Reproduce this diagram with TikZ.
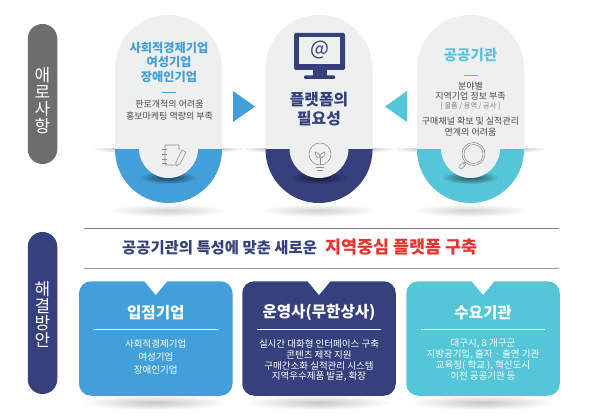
\documentclass[tikz,border=0pt]{standalone}
\usepackage{fontspec}
\setmainfont{Noto Sans CJK KR}
\definecolor{cblue}{HTML}{429FD9}
\definecolor{cnavy}{HTML}{35407C}
\definecolor{cteal}{HTML}{55C5D8}
\definecolor{cpale}{HTML}{EEEFEF}
\definecolor{cside}{HTML}{6D6D6D}
\definecolor{ctext}{HTML}{4A4A4A}
\definecolor{cred}{HTML}{E8332E}
\definecolor{cicon}{HTML}{8A8A8A}
\newcommand{\softell}[5][.035]{\foreach \k in {1,...,9}{\fill[black,opacity=#1] (#2,#3) ellipse [x radius={#4*\k/9}, y radius={#5*\k/9}];}}
\newcommand{\pxfont}[1]{\fontsize{#1}{#1}\selectfont}
\newcommand{\upcard}[3]{%
  \begin{scope}
    \clip (#1-80,149) rectangle (#1+80,160);
    \softell[.06]{#1}{149}{74}{5}
  \end{scope}
  \softell[.02]{#1}{211}{56}{6}
  \begin{scope}
    \clip (#1-60,148.5) rectangle (#1+60,210);
    \node[pill,fill=#2] (#3) at (#1,109) {};
  \end{scope}
  \begin{scope}
    \clip (#1-60,0) rectangle (#1+60,149);
    \node[pill,fill=cpale] at (#1,109) {};
  \end{scope}
  \begin{scope}
    \clip (#1-54,149) rectangle (#1+54,190);
    \softell[.07]{#1}{178}{27}{6}
  \end{scope}
  \fill[cpale] (#1,148.5) circle (29.5);
}
\newcommand{\lowcard}[3]{%
  \softell[.022]{#1}{403}{70}{7}
  \node[lowbox,fill=#2] (#3) at (#1,338.5) {};
  \fill[white] (#1-12,280.5) -- (#1+12,280.5) -- (#1,295) -- cycle;
  \draw[white,line width=1.1] (#1-62,329.3) -- (#1+62,329.3);
}
\tikzset{
  pill/.style={rectangle,minimum width=107,minimum height=188,rounded corners=53.4,inner sep=0,outer sep=0},
  lowbox/.style={rectangle,minimum width=153.5,minimum height=114.5,rounded corners=12,inner sep=0,outer sep=0},
  sidepill/.style={rectangle,minimum width=29.5,rounded corners=14.7,inner sep=0,outer sep=0},
  sidetext/.style={text=white,align=center,font=\pxfont{17},inner sep=0},
  ttl/.style={font=\bfseries\pxfont{12.2},inner sep=0},
  body/.style={font=\pxfont{9},text=ctext,inner sep=0},
  lowttl/.style={font=\bfseries\pxfont{15.6},text=white,inner sep=0},
  lowbody/.style={font=\pxfont{9.5},text=white,inner sep=0},
  icon/.style={draw=cicon,line width=.55,fill=none},
}
\begin{document}
\begin{tikzpicture}[x=1pt,y=-1pt]
\useasboundingbox (0,0) rectangle (601,419);
\fill[white] (0,0) rectangle (601,419);
% side pills
\node[sidepill,fill=cside,minimum height=140] (sa) at (42.5,94) {};
\node[sidepill,fill=cnavy,minimum height=162] (sb) at (42.5,313) {};
\foreach \ch/\yy in {애/75,로/92,사/109,항/126}{\node[sidetext] at (42.5,\yy) {\ch};}
\foreach \ch/\yy in {해/289,결/306,방/323,안/340}{\node[sidetext] at (42.5,\yy) {\ch};}
% upper cards
\upcard{168.5}{cblue}{c1}
\upcard{319}{cnavy}{c2}
\upcard{470.5}{cteal}{c3}
% arrows
\fill[cblue] (233,91) -- (255,106.5) -- (233,122) -- cycle;
\fill[cteal] (407,91) -- (385,106.5) -- (407,122) -- cycle;
% left card text
\node[ttl,text=cblue] (t1a) at (169,47.5) {사회적경제기업};
\node[ttl,text=cblue] (t1b) at (169,62) {여성기업};
\node[ttl,text=cblue] (t1c) at (169,77) {장애인기업};
\draw[cblue,line width=.9] (162,92) -- (176,92);
\node[body] (t1d) at (169.5,104) {판로개척의 어려움};
\node[body] (t1e) at (169.5,116.5) {홍보마케팅 역량의 부족};
% centre card text
\node[font=\bfseries\pxfont{15.8},text=cnavy,inner sep=0] (t2a) at (319,100) {플랫폼의};
\node[font=\bfseries\pxfont{15.8},text=cnavy,inner sep=0] (t2b) at (319,119) {필요성};
% monitor
\fill[cnavy,rounded corners=1.5] (294,33) rectangle (345,70);
\fill[cpale] (298.7,37.3) rectangle (340,64);
\fill[cnavy] (313,70) rectangle (327,76);
\fill[cnavy,rounded corners=1] (304,75.5) rectangle (335,79);
\node[font=\pxfont{20},text=cnavy,inner sep=0] (at) at (319.5,50.5) {@};
% right card text
\node[font=\bfseries\pxfont{14.5},text=cteal,inner sep=0] (t3a) at (470.5,55) {공공기관};
\draw[cteal,line width=.9] (464,75) -- (478,75);
\node[body] (t3b) at (470.5,86.5) {분야별};
\node[body] (t3c) at (470.5,96.5) {지역기업 정보 부족};
\node[font=\pxfont{7.2},text=gray,inner sep=0] (t3d) at (470.5,106) {[ 물품 / 용역 / 공사 ]};
\node[body] (t3e) at (470.5,121.5) {구매채널 확보 및 실적관리};
\node[body] (t3f) at (470.5,132) {연계의 어려움};
% note icon
\draw[icon,rounded corners=.8] (165,145) -- (179,145) -- (179,150);
\draw[icon,rounded corners=.8] (165,145) -- (165,165) -- (175,165);
\foreach \yy in {149,154,159,163}{\draw[icon] (162,\yy) -- (167,\yy);}
\draw[icon] (176,162) -- (182,150) -- (186,152) -- (180,164) -- (176,166) -- cycle;
% bulb icon
\draw[icon] (320,154) circle (11);
\draw[icon] (320,165) -- (320,158);
\draw[icon] (320,158) .. controls (316,158) and (315,155) .. (315,152) .. controls (318,152) and (320,154) .. (320,158);
\draw[icon] (320,158) .. controls (324,158) and (325,155) .. (325,152) .. controls (322,152) and (320,154) .. (320,158);
\draw[icon] (316,167) -- (324,167);
\draw[icon] (317,170) -- (323,170);
% magnifier icon
\draw[icon] (473.5,154) circle (11.5);
\draw[icon] (473.5,154) circle (9.5);
\draw[icon] (465,162.5) -- (463,164.5);
\draw[icon,rounded corners=.8] (463.5,162) -- (466,164.5) -- (461,169.5) -- (458.5,167) -- cycle;
% lower band
\draw[gray,line width=.8] (84,228) -- (559,228);
\draw[gray!80,line width=.8] (84,268) -- (559,268);
\node[font=\bfseries\pxfont{15.4},text=cnavy,inner sep=0,anchor=base west] (hd) at (122,253) {공공기관의 특성에 맞춘 새로운};
\node[font=\bfseries\pxfont{17.4},text=cred,inner sep=0,anchor=base east] (hr) at (478,253) {지역중심 플랫폼 구축};
% lower cards
\lowcard{155.75}{cblue}{d1}
\lowcard{319}{cnavy}{d2}
\lowcard{483}{cteal}{d3}
\node[lowttl] (d1t) at (155.75,312.5) {입점기업};
\node[lowbody] at (155.75,343.5) {사회적경제기업};
\node[lowbody] at (155.75,356.5) {여성기업};
\node[lowbody] at (155.75,369.5) {장애인기업};
\node[lowttl] (d2t) at (319,312.5) {운영사(무한상사)};
\node[lowbody] at (319,343.5) {실시간 대화형 인터페이스 구축};
\node[lowbody] at (319,354.5) {콘텐츠 제작 지원};
\node[lowbody] at (319,365.5) {구매간소화 실적관리 시스템};
\node[lowbody] at (319,376) {지역우수제품 발굴, 확장};
\node[lowttl] (d3t) at (483,312.5) {수요기관};
\node[lowbody] at (483,343.5) {대구시, 8 개구군};
\node[lowbody] at (483,354.5) {지방공기업, 출자 · 출연 기관};
\node[lowbody] at (483,365.5) {교육청( 학교 ), 혁신도시};
\node[lowbody] at (483,376) {이전 공공기관 등};
\end{tikzpicture}
\end{document}
